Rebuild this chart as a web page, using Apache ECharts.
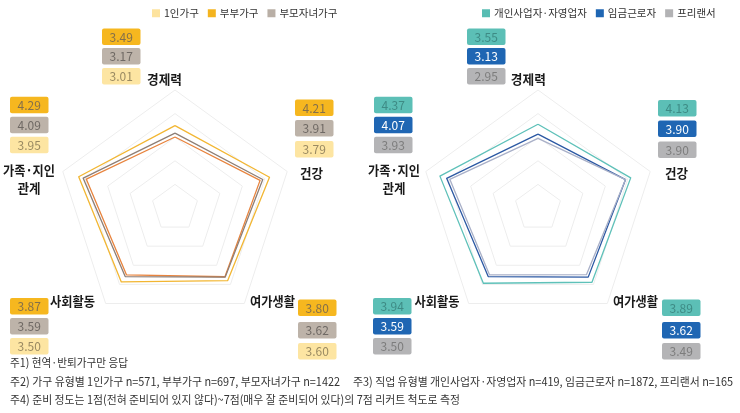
<!DOCTYPE html>
<html>
<head>
<meta charset="utf-8">
<script src="https://cdn.jsdelivr.net/npm/echarts@6/dist/echarts.min.js"></script>
<style>
html,body{margin:0;padding:0;background:#fff;}
#chart{width:740px;height:413px;}
</style>
</head>
<body>
<div id="chart"></div>
<script>
// ---------- data ----------
const axisNames = ['경제력', '가족·지인 관계', '사회활동', '여가생활', '건강'];
const axisMax = 5;

const householdNames = ['1인가구', '부부가구', '부모자녀가구'];
const singleHH = [3.01, 3.95, 3.50, 3.60, 3.79];
const coupleHH = [3.49, 4.29, 3.87, 3.80, 4.21];
const parentChildHH = [3.17, 4.09, 3.59, 3.62, 3.91];

const jobNames = ['개인사업자·자영업자', '임금근로자', '프리랜서'];
const selfEmployed = [3.55, 4.37, 3.94, 3.89, 4.13];
const wageWorker = [3.13, 4.07, 3.59, 3.62, 3.90];
const freelancer = [2.95, 3.93, 3.50, 3.49, 3.90];

const notes = [
  '주1) 현역·반퇴가구만 응답',
  '주2) 가구 유형별 1인가구 n=571, 부부가구 n=697, 부모자녀가구 n=1422',
  '주3) 직업 유형별 개인사업자·자영업자 n=419, 임금근로자 n=1872, 프리랜서 n=165',
  '주4) 준비 정도는 1점(전혀 준비되어 있지 않다)~7점(매우 잘 준비되어 있다)의 7점 리커트 척도로 측정'
];

// ---------- styles / layout ----------
const FONT = '"Noto Sans CJK KR", "Noto Sans", sans-serif';
const leftStyle = {
  legend: ['#fde39e', '#f4b41f', '#b9afa6'],
  line: ['#e8843e', '#f2b632', '#8d7e75'],
  box: ['#f6b71f', '#bdb3a9', '#fde5a2'],      // stack order: couple, parent-child, single
  boxText: ['#85704a', '#6f6964', '#9a8a62']
};
const rightStyle = {
  legend: ['#58bdb3', '#1f66b3', '#b3b3b5'],
  line: ['#5ec1b9', '#2b58a3', '#a9b0c8'],
  box: ['#5cbfb6', '#1f66b3', '#b4b4b6'],      // stack order: self-employed, wage, freelancer
  boxText: ['#3e8b85', '#ffffff', '#7d7d7d']
};
const leftBoxes = [
  {x: 102, y: [28.5, 48, 68]},
  {x: 10, y: [96.7, 116.7, 136.7]},
  {x: 10, y: [298, 318, 338]},
  {x: 298, y: [299.5, 322, 343]},
  {x: 295, y: [99.5, 120, 141]}
];
const rightBoxes = [
  {x: 467, y: [28.5, 48, 68]},
  {x: 374, y: [96.7, 116.7, 136.7]},
  {x: 373, y: [298, 318, 338]},
  {x: 662, y: [299.5, 322, 343]},
  {x: 658, y: [100, 120.5, 141.5]}
];
const leftNames = [
  {x: 164.5, y: [79], w: [35]},
  {x: 29, y: [170, 188], w: [52, 23]},
  {x: 72.5, y: [301], w: [45]},
  {x: 272.5, y: [301], w: [45]},
  {x: 311.5, y: [173.5], w: [23]}
];
const rightNames = [
  {x: 528.3, y: [79], w: [35]},
  {x: 394, y: [170, 188], w: [52, 23]},
  {x: 437, y: [301], w: [45]},
  {x: 635.5, y: [301], w: [45]},
  {x: 676.5, y: [173.5], w: [23]}
];
const BOX_W = 38.5, BOX_H = 16.5;

const mctx = document.createElement('canvas').getContext('2d');
function measure(text, size, weight) {
  mctx.font = (weight || 'normal') + ' ' + size + 'px ' + FONT;
  return mctx.measureText(text).width;
}

const graphics = [];
function addBoxes(layout, stacks, style) {
  layout.forEach((pos, ai) => {
    stacks.forEach((arr, si) => {
      graphics.push({
        type: 'rect', silent: true,
        shape: {x: pos.x, y: pos.y[si], width: BOX_W, height: BOX_H, r: 2},
        style: {fill: style.box[si]}
      });
      graphics.push({
        type: 'text', silent: true,
        x: pos.x + BOX_W / 2, y: pos.y[si] + BOX_H / 2 + 0.5,
        style: {
          text: arr[ai].toFixed(2), fill: style.boxText[si],
          font: '12px ' + FONT, align: 'center', verticalAlign: 'middle',
          textAlign: 'center', textVerticalAlign: 'middle'
        }
      });
    });
  });
}
function addNames(layout) {
  layout.forEach((pos, ai) => {
    const lines = axisNames[ai].split(' ');
    const parts = lines.length > 1 ? lines : [axisNames[ai]];
    parts.forEach((t, li) => {
      const size = 13;
      const w = measure(t, size, 'bold');
      graphics.push({
        type: 'text', silent: true,
        x: pos.x, y: pos.y[li],
        scaleX: pos.w[li] / w,
        style: {
          text: t, fill: '#1a1a1a', font: 'bold ' + size + 'px ' + FONT,
          align: 'center', verticalAlign: 'middle',
          textAlign: 'center', textVerticalAlign: 'middle'
        }
      });
    });
  });
}
addBoxes(leftBoxes, [coupleHH, parentChildHH, singleHH], leftStyle);
addBoxes(rightBoxes, [selfEmployed, wageWorker, freelancer], rightStyle);
addNames(leftNames);
addNames(rightNames);

const noteLayout = [
  {x: 10, y: 363, w: 118},
  {x: 10, y: 381.5, w: 330},
  {x: 353, y: 381.5, w: 380},
  {x: 10, y: 400, w: 450}
];
notes.forEach((t, i) => {
  const size = 11.5;
  const w = measure(t, size);
  graphics.push({
    type: 'text', silent: true,
    x: noteLayout[i].x, y: noteLayout[i].y,
    scaleX: noteLayout[i].w / w,
    style: {
      text: t, fill: '#333333', font: size + 'px ' + FONT,
      align: 'left', verticalAlign: 'middle',
      textAlign: 'left', textVerticalAlign: 'middle'
    }
  });
});

function radarCfg(cx) {
  return {
    center: [cx, 208], radius: 118, startAngle: 90, splitNumber: 5, shape: 'polygon',
    indicator: axisNames.map(n => ({name: n, min: 0, max: axisMax})),
    axisName: {show: false},
    axisLine: {show: false},
    axisTick: {show: false},
    axisLabel: {show: false},
    splitArea: {show: false},
    splitLine: {lineStyle: {color: '#ededed', width: 1}}
  };
}
function seriesData(names, arrs, style) {
  return names.map((n, i) => ({
    name: n, value: arrs[i],
    itemStyle: {color: style.legend[i]},
    lineStyle: {color: style.line[i], width: 1.3}
  }));
}

const chart = echarts.init(document.getElementById('chart'), null, {renderer: 'canvas'});
chart.setOption({
  animation: false,
  textStyle: {fontFamily: FONT},
  legend: [
    {data: householdNames, left: 147, top: 3, icon: 'rect', itemWidth: 8, itemHeight: 8, itemGap: 9,
     textStyle: {fontSize: 10.5, color: '#333', padding: [0, 0, 0, -1]}},
    {data: jobNames, left: 477, top: 3, icon: 'rect', itemWidth: 8, itemHeight: 8, itemGap: 9,
     textStyle: {fontSize: 10.5, color: '#333', padding: [0, 0, 0, -1]}}
  ],
  radar: [radarCfg(175), radarCfg(538)],
  series: [
    {type: 'radar', radarIndex: 0, symbol: 'none', z: 3,
     data: seriesData(householdNames, [singleHH, coupleHH, parentChildHH], leftStyle)},
    {type: 'radar', radarIndex: 1, symbol: 'none', z: 3,
     data: seriesData(jobNames, [selfEmployed, wageWorker, freelancer], rightStyle)}
  ],
  graphic: {elements: graphics}
});
</script>
</body>
</html>
